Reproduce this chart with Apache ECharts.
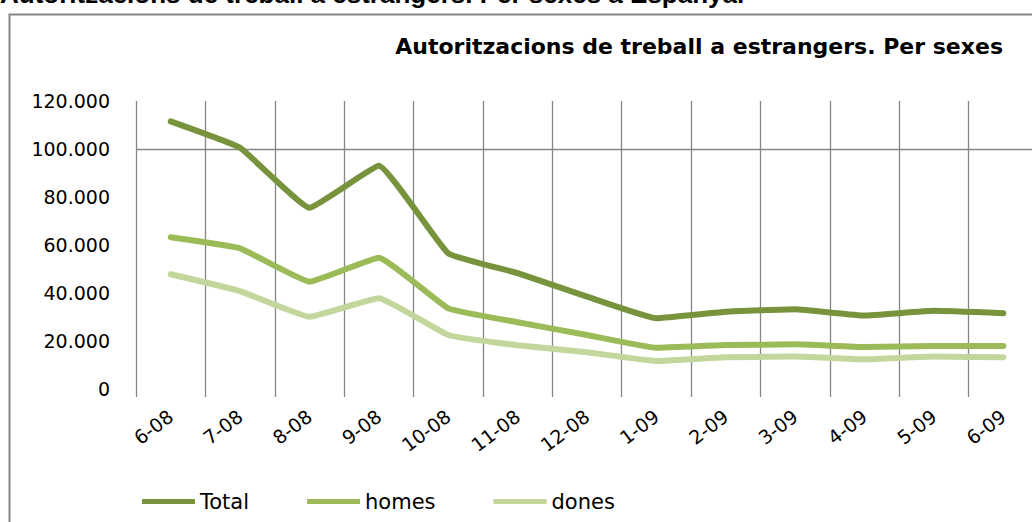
<!DOCTYPE html>
<html>
<head>
<meta charset="utf-8">
<script src="https://cdn.jsdelivr.net/npm/echarts@6/dist/echarts.min.js"></script>
<style>
html,body{margin:0;padding:0;background:#fff;}
#chart{width:1032px;height:522px;}
</style>
</head>
<body>
<div id="chart"></div>
<script>
var categories = ['6-08','7-08','8-08','9-08','10-08','11-08','12-08','1-09','2-09','3-09','4-09','5-09','6-09'];
var totalValues = [111500, 100500, 75500, 93000, 56500, 48300, 38500, 29500, 32200, 33200, 30600, 32600, 31600];
var homesValues = [63200, 58600, 44700, 54700, 33600, 27800, 22500, 17200, 18300, 18600, 17500, 17900, 17900];
var donesValues = [47800, 40800, 30100, 37800, 22500, 18200, 15300, 11700, 13200, 13500, 12400, 13500, 13200];
var yTickValues = [0, 20000, 40000, 60000, 80000, 100000, 120000];
var yTickLabels = ['0', '20.000', '40.000', '60.000', '80.000', '100.000', '120.000'];
var seriesNames = ['Total', 'homes', 'dones'];
var chartTitle = 'Autoritzacions de treball a estrangers. Per sexes';
var pageHeader = 'Autoritzacions de treball a estrangers. Per sexes a Espanya.';

var chart = echarts.init(document.getElementById('chart'), null, {renderer: 'svg'});
var grey = '#868686';
var splitColors = yTickValues.map(function (v) { return v === 100000 ? grey : 'rgba(0,0,0,0)'; });

chart.setOption({
  backgroundColor: '#ffffff',
  animation: false,
  title: [
    {
      text: pageHeader, left: 0, top: -19, padding: 0,
      textStyle: {fontFamily: 'Liberation Sans', fontWeight: 'bold', fontSize: 26, color: '#000'}
    },
    {
      text: chartTitle, right: 29, top: 35, padding: 0,
      textStyle: {fontFamily: 'DejaVu Sans', fontWeight: 'bold', fontSize: 22, color: '#000'}
    }
  ],
  graphic: [
    {
      type: 'rect', left: 7, top: 12, z: -1, silent: true,
      shape: {width: 1040, height: 520},
      style: {fill: 'none', stroke: grey, lineWidth: 2}
    }
  ],
  legend: {
    data: seriesNames,
    left: 142, top: 491, padding: 0,
    itemWidth: 53, itemHeight: 5, itemGap: 58,
    icon: 'rect',
    textStyle: {fontFamily: 'DejaVu Sans', fontSize: 21, color: '#000'}
  },
  grid: {
    left: 136, top: 101, width: 902, height: 288,
    containLabel: false, outerBoundsMode: 'none'
  },
  xAxis: {
    type: 'category', data: categories, boundaryGap: true,
    axisLine: {show: false},
    axisTick: {show: true, length: 8, interval: 0, lineStyle: {color: grey, width: 1.3}},
    splitLine: {show: true, interval: 0, lineStyle: {color: grey, width: 1.3}},
    axisLabel: {interval: 0, rotate: 37, margin: 25, fontFamily: 'DejaVu Sans', fontSize: 19, color: '#000'}
  },
  yAxis: {
    type: 'value', min: 0, max: 120000, interval: 20000,
    axisLine: {show: false}, axisTick: {show: false},
    splitLine: {show: true, lineStyle: {color: splitColors, width: 1.3}},
    axisLabel: {
      margin: 26, fontFamily: 'DejaVu Sans', fontSize: 19, color: '#000',
      formatter: function (v) { return yTickLabels[yTickValues.indexOf(v)]; }
    }
  },
  series: [
    {name: seriesNames[0], type: 'line', data: totalValues, symbol: 'none', smooth: 0.1,
     lineStyle: {color: '#77933C', width: 6, cap: 'round', join: 'round'}, itemStyle: {color: '#77933C'}},
    {name: seriesNames[1], type: 'line', data: homesValues, symbol: 'none', smooth: 0.1,
     lineStyle: {color: '#9BBB59', width: 6, cap: 'round', join: 'round'}, itemStyle: {color: '#9BBB59'}},
    {name: seriesNames[2], type: 'line', data: donesValues, symbol: 'none', smooth: 0.1,
     lineStyle: {color: '#C3D69B', width: 6, cap: 'round', join: 'round'}, itemStyle: {color: '#C3D69B'}}
  ]
});
</script>
</body>
</html>
